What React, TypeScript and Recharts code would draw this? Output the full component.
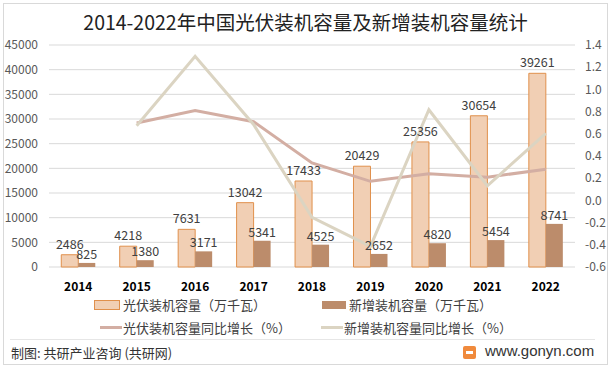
import { Bar, CartesianGrid, ComposedChart, LabelList, Line, XAxis, YAxis } from 'recharts';

const years = ['2014', '2015', '2016', '2017', '2018', '2019', '2020', '2021', '2022'];
const installed = [2486, 4218, 7631, 13042, 17433, 20429, 25356, 30654, 39261];
const added = [825, 1380, 3171, 5341, 4525, 2652, 4820, 5454, 8741];
const installedGrowth = [null, 0.697, 0.809, 0.709, 0.337, 0.172, 0.241, 0.209, 0.281];
const addedGrowth = [null, 0.673, 1.298, 0.684, -0.153, -0.414, 0.817, 0.132, 0.603];
const leftTicks = [0, 5000, 10000, 15000, 20000, 25000, 30000, 35000, 40000, 45000];
const rightTicks = [-0.6, -0.4, -0.2, 0, 0.2, 0.4, 0.6, 0.8, 1.0, 1.2, 1.4];

const data = years.map((y, i) => ({
  y, a: installed[i], b: added[i], ga: installedGrowth[i], gb: addedGrowth[i],
}));

const font = '"Noto Sans CJK SC", "Noto Sans", sans-serif';
const C = { light: '#F1CFB4', lightLine: '#E0904C', dark: '#BC8C6B', pink: '#D3AEA3', beige: '#DBD4C2' };

function Swatch({ type, color, border }: { type: 'rect' | 'line'; color: string; border?: string }) {
  if (type === 'line') return <span style={{ display: 'inline-block', width: 22, height: 3, background: color, marginRight: 1 }} />;
  return <span style={{ display: 'inline-block', width: 24, height: 8, background: color, border: border ? `1px solid ${border}` : 'none', marginRight: 3 }} />;
}

function Item({ left, top, children }: { left: number; top: number; children: React.ReactNode }) {
  return (
    <div style={{ position: 'absolute', left, top, display: 'flex', alignItems: 'center', fontSize: 13, color: '#404040', whiteSpace: 'nowrap' }}>
      {children}
    </div>
  );
}

export default function App() {
  return (
    <div style={{ position: 'absolute', left: 0, top: 0, width: 611, height: 369, background: '#fff', fontFamily: font }}>
      <div style={{ position: 'absolute', left: 3, top: 3, width: 603, height: 360, border: '1px solid #d9d9d9' }} />
      <div style={{ position: 'absolute', left: 0, top: 9, width: 611, textAlign: 'center', fontSize: 19.5, color: '#222', lineHeight: '26px' }}>
        2014-2022年中国光伏装机容量及新增装机容量统计
      </div>
      <div style={{ position: 'absolute', left: 0, top: 0 }}>
        <ComposedChart width={611} height={300} data={data} margin={{ top: 45, right: 0, left: 0, bottom: 3 }} barCategoryGap="21%" barGap={0}>
          <CartesianGrid yAxisId="left" vertical={false} stroke="#d9d9d9" />
          <XAxis dataKey="y" axisLine={false} tickLine={false} height={30} tickMargin={9}
            tick={{ fontSize: 12, fill: '#000', fontWeight: 'bold', fontFamily: font }} />
          <YAxis yAxisId="left" domain={[0, 45000]} ticks={leftTicks} width={49} axisLine={false} tickLine={false} tickMargin={5}
            tick={{ fontSize: 12, fill: '#595959', fontFamily: font }} />
          <YAxis yAxisId="right" orientation="right" domain={[-0.6, 1.4]} ticks={rightTicks} width={36} axisLine={false} tickLine={false} tickMargin={4}
            tickFormatter={(v: number) => v.toFixed(1)} tick={{ fontSize: 12, fill: '#595959', fontFamily: font }} />
          <Bar yAxisId="left" dataKey="a" fill={C.light} stroke={C.lightLine} strokeWidth={1} isAnimationActive={false}>
            <LabelList dataKey="a" position="top" offset={6} style={{ fontSize: 12.5, fill: '#404040', fontFamily: font }} />
          </Bar>
          <Bar yAxisId="left" dataKey="b" fill={C.dark} isAnimationActive={false}>
            <LabelList dataKey="b" position="top" offset={4} style={{ fontSize: 12.5, fill: '#404040', fontFamily: font }} />
          </Bar>
          <Line yAxisId="right" dataKey="ga" stroke={C.pink} strokeWidth={3} dot={false} isAnimationActive={false} />
          <Line yAxisId="right" dataKey="gb" stroke={C.beige} strokeWidth={3} dot={false} isAnimationActive={false} />
        </ComposedChart>
      </div>
      <Item left={94} top={295}><Swatch type="rect" color={C.light} border={C.lightLine} />光伏装机容量（万千瓦）</Item>
      <Item left={322} top={295}><Swatch type="rect" color={C.dark} />新增装机容量（万千瓦）</Item>
      <Item left={100} top={318}><Swatch type="line" color={C.pink} />光伏装机容量同比增长（%）</Item>
      <Item left={321} top={318}><Swatch type="line" color={C.beige} />新增装机容量同比增长（%）</Item>
      <div style={{ position: 'absolute', left: 10, top: 339, width: 585, height: 1, background: '#e6e6e6' }} />
      <div style={{ position: 'absolute', left: 11, top: 343, fontSize: 13, color: '#333', whiteSpace: 'nowrap' }}>制图: 共研产业咨询 (共研网)</div>
      <div style={{ position: 'absolute', left: 463, top: 346, width: 13, height: 13, background: '#F08A3C', borderRadius: 2 }}>
        <div style={{ position: 'absolute', left: 3, top: 5, width: 7, height: 3, background: '#fff' }} />
      </div>
      <div style={{ position: 'absolute', left: 485, top: 342, fontSize: 15, color: '#333', fontFamily: '"Liberation Sans", Arial, sans-serif' }}>www.gonyn.com</div>
    </div>
  );
}
